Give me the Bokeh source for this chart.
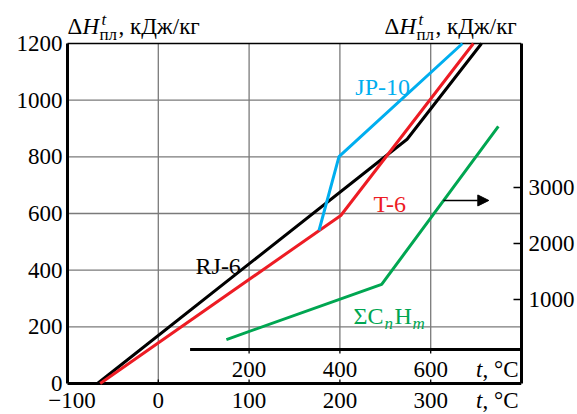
from bokeh.plotting import figure
from bokeh.models import (Range1d, LinearAxis, FixedTicker, Label, LabelSet, Arrow,
                          NormalHead, ColumnDataSource)
from bokeh.embed import file_html
from bokeh.resources import INLINE
from bokeh.core.properties import value

# ---------------- data ----------------
# RJ-6, T-6, JP-10 : t (°C, lower axis)  ->  ΔH (kJ/kg, left axis)
rj6_t = [-67, 274, 356]
rj6_h = [0, 862, 1200]
t6_t = [-64, 201, 347]
t6_h = [0, 593, 1200]
jp10_t = [177, 199, 335]
jp10_h = [540, 801, 1200]
# ΣCnHm : t (°C, inner axis)  ->  ΔH (kJ/kg, right axis)
sum_t = [150, 492, 749]
sum_h = [285, 1270, 4090]

h_ticks = [0, 200, 400, 600, 800, 1000, 1200]
t_ticks = [-100, 0, 100, 200, 300]
t_tick_labels = ["\u2212100", "0", "100", "200", "300"]
q_ticks = [1000, 2000, 3000]
t2_ticks = [200, 400, 600]
t2_tick_labels = ["200", "400", "600"]
t_axis_title = ["t", ", \u00b0C"]
grid_h = [200, 400, 600, 800, 1000]
grid_t_full = [0]
grid_t_part = [100, 200, 300]
inner_axis_h = 120      # level of the inner t-axis (in ΔH units)
inner_axis_t2 = 70      # start of the inner t-axis

T_MIN, T_MAX = -100, 400
H_MIN, H_MAX = 0, 1200

FONT = "Liberation Serif"
FS = "23px"
FS_LAB = "24px"
FS_SMALL = "17px"
BLUE = "#00aeef"
RED = "#ed1c24"
GREEN = "#00a651"
GRID = "#7a7a7a"

# frame spans the full canvas height and starts a little left of the plot box
PX_PER_H = 340 / 1200.0
PX_PER_T = 454 / 500.0
Y_LO = H_MIN - 31 / PX_PER_H
Y_HI = H_MAX + 43 / PX_PER_H
X_LO = T_MIN - 27 / PX_PER_T
# right axis: ΔH = Q0 + K * q
K = 56 / 1000.0 / PX_PER_H
Q0 = 28 / PX_PER_H


def h2q(h):
    return (h - Q0) / K


p = figure(width=577, height=414, output_backend="svg", toolbar_location=None,
           x_range=Range1d(X_LO, T_MAX), y_range=Range1d(Y_LO, Y_HI),
           x_axis_location=None,
           min_border_left=40, min_border_right=56, min_border_top=0,
           min_border_bottom=0)
p.extra_y_ranges = {"q": Range1d(h2q(Y_LO), h2q(Y_HI))}
p.extra_x_ranges = {"t2": Range1d(2 * X_LO, 2 * T_MAX)}
p.background_fill_color = "white"
p.border_fill_color = "white"
p.outline_line_color = None
p.xgrid.visible = False
p.ygrid.visible = False

ya = p.yaxis[0]
ya.bounds = (H_MIN, H_MAX)
ya.ticker = FixedTicker(ticks=h_ticks)
ya.minor_tick_line_color = None
ya.major_tick_in = 0
ya.major_tick_out = 0
ya.axis_line_color = None
ya.major_label_standoff = -22
ya.major_label_text_font = FONT
ya.major_label_text_font_size = FS
ya.major_label_text_color = "black"

ra = LinearAxis(y_range_name="q", ticker=FixedTicker(ticks=q_ticks),
                bounds=(h2q(H_MIN), h2q(H_MAX)))
ra.minor_tick_line_color = None
ra.major_tick_in = 8
ra.major_tick_out = 0
ra.major_tick_line_width = 1.3
ra.axis_line_width = 3
ra.major_label_standoff = 7
ra.major_label_text_font = FONT
ra.major_label_text_font_size = FS
ra.major_label_text_color = "black"
p.add_layout(ra, "right")

# grid
p.segment(x0=T_MIN, x1=T_MAX, y0=grid_h, y1=grid_h, line_color=GRID, line_width=1.3)
p.segment(x0=grid_t_full, x1=grid_t_full, y0=H_MIN, y1=H_MAX, line_color=GRID,
          line_width=1.3)
p.segment(x0=grid_t_part, x1=grid_t_part, y0=inner_axis_h, y1=H_MAX, line_color=GRID,
          line_width=1.3)

# box: top border, left ΔH axis line, bottom t axis
p.segment(x0=[T_MIN], x1=[T_MAX], y0=[H_MAX], y1=[H_MAX], line_color="black",
          line_width=1.6)
p.segment(x0=[T_MIN], x1=[T_MIN], y0=[H_MIN], y1=[H_MAX], line_color="black",
          line_width=3)
p.segment(x0=[T_MIN], x1=[T_MAX], y0=[H_MIN], y1=[H_MIN], line_color="black",
          line_width=3)
p.segment(x0=t_ticks[1:], x1=t_ticks[1:], y0=H_MIN, y1=H_MIN + 4 / PX_PER_H,
          line_color="black", line_width=1.3)
# a leading minus sign is hung to the left, so the digits stay centred
t_label_dx = [4.5 if s.startswith("\u2212") else 0 for s in t_tick_labels]
src_t = ColumnDataSource(dict(x=t_ticks, text=t_tick_labels, dx=t_label_dx))
p.add_layout(LabelSet(x="x", y=H_MIN, text="text", source=src_t, x_offset="dx",
                      y_offset=-24.5,
                      text_align="center", text_baseline="alphabetic",
                      text_font=value(FONT), text_font_size=FS, text_color="black"))

# t-axis titles ("t" italic, ", °C" upright), right-aligned at the box edge
src_tt = ColumnDataSource(dict(x=[T_MAX, T_MAX], text=t_axis_title,
                               dx=[-39, -3], style=["italic", "normal"]))
for dy in (7, -24.5):
    p.add_layout(LabelSet(x="x", y=H_MIN, text="text", source=src_tt, x_offset="dx",
                          y_offset=dy, text_align="right", text_baseline="alphabetic",
                          text_font=value(FONT), text_font_size=FS,
                          text_font_style="style", text_color="black"))

# inner t axis
p.segment(x0=[inner_axis_t2], x1=[2 * T_MAX], y0=[inner_axis_h], y1=[inner_axis_h],
          x_range_name="t2", line_color="black", line_width=3)
p.segment(x0=t2_ticks, x1=t2_ticks, y0=inner_axis_h, y1=inner_axis_h - 4 / PX_PER_H,
          x_range_name="t2", line_color="black", line_width=1.3)
src_t2 = ColumnDataSource(dict(x=t2_ticks, text=t2_tick_labels))
p.add_layout(LabelSet(x="x", y=H_MIN, text="text", source=src_t2, x_range_name="t2",
                      y_offset=7, text_align="center", text_baseline="alphabetic",
                      text_font=value(FONT), text_font_size=FS, text_color="black"))

# curves
p.line(rj6_t, rj6_h, line_color="black", line_width=3)
p.line(t6_t, t6_h, line_color=RED, line_width=3)
p.line(jp10_t, jp10_h, line_color=BLUE, line_width=3)
p.line(sum_t, sum_h, x_range_name="t2", y_range_name="q", line_color=GREEN, line_width=3)


def lab(x, y, text, dx=0, dy=0, color="black", italic=False, size=FS, align="left"):
    p.add_layout(Label(x=x, y=y, text=text, x_offset=dx, y_offset=dy,
                       text_font=FONT, text_font_size=size, text_color=color,
                       text_font_style="italic" if italic else "normal",
                       text_align=align, text_baseline="alphabetic"))


# curve names
lab(41, 416, "RJ-6", size=FS_LAB)
lab(217, 1046, "JP-10", color=BLUE, size=FS_LAB)
lab(237, 632, "T-6", color=RED, size=FS_LAB)
lab(215, 240, "\u03a3C", color=GREEN, size=FS_LAB)
lab(215, 240, "n", dx=31, dy=-8, color=GREEN, italic=True, size=FS_SMALL)
lab(215, 240, "H", dx=41, color=GREEN, size=FS_LAB)
lab(215, 240, "m", dx=59, dy=-8, color=GREEN, italic=True, size=FS_SMALL)

p.add_layout(Arrow(x_start=314, y_start=646, x_end=364, y_end=646, line_width=1.5,
                   line_color="black",
                   end=NormalHead(size=11, fill_color="black", line_color="black")))


# axis titles
def dh_title(x, dx0):
    lab(x, H_MAX, "\u0394", dx=dx0, dy=17)
    lab(x, H_MAX, "H", dx=dx0 + 15, dy=17, italic=True)
    lab(x, H_MAX, "t", dx=dx0 + 34, dy=24, italic=True, size=FS_SMALL)
    lab(x, H_MAX, "\u043f\u043b", dx=dx0 + 32, dy=9, size=FS_SMALL)
    lab(x, H_MAX, ", \u043a\u0414\u0436/\u043a\u0433", dx=dx0 + 51, dy=17)


dh_title(T_MIN, 0)
dh_title(T_MAX, -137)

open("out.html", "w").write(file_html(p, INLINE))
